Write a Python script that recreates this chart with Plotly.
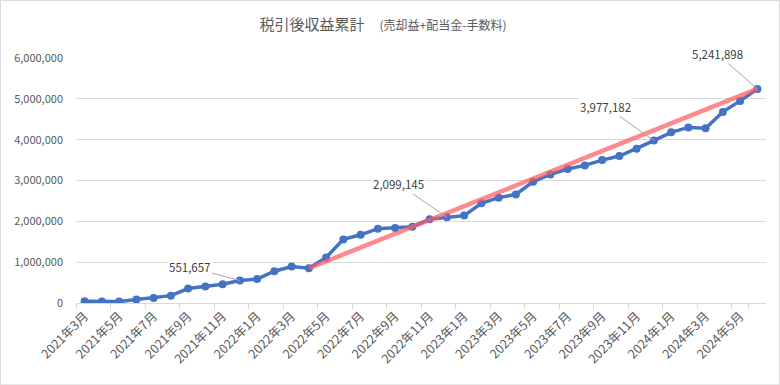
import plotly.graph_objects as go

months = [f"{y}年{m}月" for y, m in
          [(2021, m) for m in range(3, 13)] + [(2022, m) for m in range(1, 13)] +
          [(2023, m) for m in range(1, 13)] + [(2024, m) for m in range(1, 7)]]

values = [40000, 38000, 35000, 83000, 123000, 180000, 354000, 403000, 460000, 551657,
          585000, 779000, 894000, 853000, 1115000, 1558000, 1670000, 1820000, 1835000, 1870000,
          2050000, 2099145, 2140000, 2440000, 2580000, 2660000, 2970000, 3150000, 3280000, 3370000,
          3500000, 3600000, 3780000, 3977182, 4180000, 4300000, 4280000, 4680000, 4950000, 5241898]

trend_idx = [13, 39]
label_idx = [9, 21, 33, 39]
label_offsets = [(-50, -13), (-48, -33), (-48, -34), (-40, -35)]

yticks = [0, 1000000, 2000000, 3000000, 4000000, 5000000, 6000000]

FONT = "Noto Sans CJK JP"
GRAY = "#595959"

fig = go.Figure()
fig.add_trace(go.Scatter(
    x=months, y=values, mode="lines+markers",
    line=dict(color="#4472C4", width=3.5),
    marker=dict(color="#4472C4", size=8),
    hoverinfo="skip", showlegend=False))
fig.add_trace(go.Scatter(
    x=[months[i] for i in trend_idx], y=[values[i] for i in trend_idx], mode="lines",
    line=dict(color="rgba(255,90,95,0.72)", width=4.5),
    hoverinfo="skip", showlegend=False))

for i, (ax, ay) in zip(label_idx, label_offsets):
    fig.add_annotation(x=months[i], y=values[i], text=f"{values[i]:,}",
                       showarrow=True, arrowhead=0, arrowwidth=1, arrowcolor="#A6A6A6",
                       ax=ax, ay=ay, bgcolor="white",
                       font=dict(family=FONT, size=11.5, color="#404040"))

fig.add_shape(type="rect", xref="paper", yref="paper",
              x0=(0.5 - 76) / 690, x1=(779.5 - 76) / 690,
              y0=(302.7 - 384.5) / 244.7, y1=(302.7 - 0.5) / 244.7,
              line=dict(color="#D9D9D9", width=1), layer="below")

fig.update_layout(
    width=780, height=385,
    margin=dict(l=76, r=14, t=58, b=82, autoexpand=False),
    paper_bgcolor="white", plot_bgcolor="white",
    font=dict(family=FONT, color=GRAY),
    title=dict(text="税引後収益累計　<span style='font-size:12px'>(売却益+配当金-手数料)</span>",
               x=383 / 780, xanchor="center", y=1 - 25 / 385, yanchor="middle",
               font=dict(family=FONT, size=15, color=GRAY)),
    xaxis=dict(type="category", tickvals=months[::2], ticktext=months[::2],
               tickangle=-45, tickson="boundaries", ticks="outside", ticklen=5,
               tickcolor="#D9D9D9", showgrid=False, showline=True, linecolor="#D9D9D9",
               linewidth=1, tickfont=dict(family=FONT, size=12.5, color=GRAY),
               range=[-0.5, 39.5], automargin=False),
    yaxis=dict(range=[0, 6000000], tickvals=yticks, ticktext=[f"{v:,}" for v in yticks],
               showgrid=True, gridcolor="#D9D9D9", gridwidth=1, zeroline=False,
               showline=False, ticks="", ticklabelstandoff=12, automargin=False,
               tickfont=dict(family=FONT, size=11, color=GRAY)),
)

fig.write_html("out.html", config={"displayModeBar": False},
               post_script="document.body.style.margin='0';document.body.style.overflow='hidden';")
